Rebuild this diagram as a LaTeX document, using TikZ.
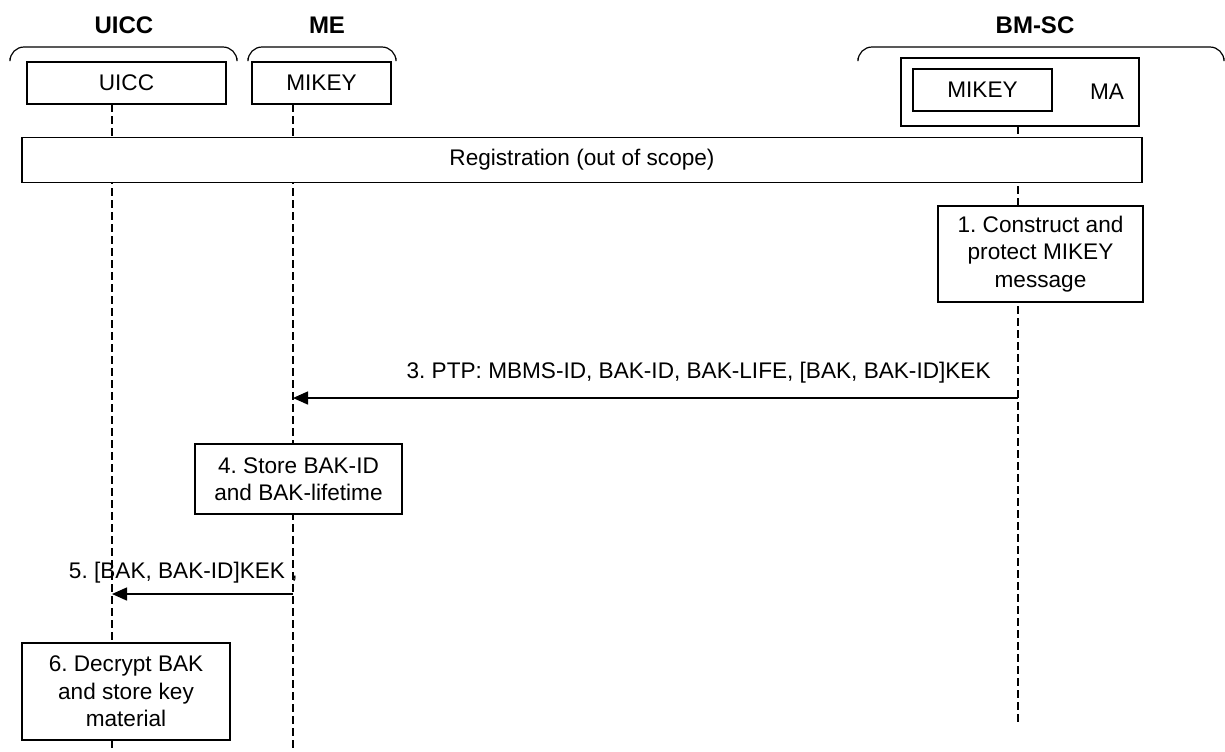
\documentclass[tikz,border=0pt]{standalone}
\usepackage{fontspec}
\setmainfont{Liberation Sans}
\usepackage{tikz}
\usetikzlibrary{arrows.meta,positioning,calc}
\frenchspacing
\tikzset{
    entitybox/.style={
        rectangle,
        draw,
        fill=white,
        line width=0.75pt,
        minimum height=21pt,
        text centered,
        inner sep=0pt
    },
    stepbox/.style={
        entitybox,
        align=center
    },
    header/.style={
        font=\fontsize{12}{14}\selectfont\bfseries
    },
    groupbrace/.style={
        line width=0.6pt,
        rounded corners=7pt
    },
    lifeline/.style={
        line width=0.6pt,
        dash pattern=on 4pt off 2pt
    },
    msg/.style={
        -{Triangle[length=7.5pt,width=6.5pt]},
        line width=0.75pt
    }
}

\begin{document}
\begin{tikzpicture}[x=0.5pt,y=-0.5pt,font=\fontsize{11.3}{13.7}\selectfont]
    \useasboundingbox (0,0) rectangle (1225,751);

    % Lifeline end points
    \coordinate (uicctop) at (112,104);
    \coordinate (uiccbot) at (112,751);
    \coordinate (metop) at (293,104);
    \coordinate (mebot) at (293,751);
    \coordinate (bmtop) at (1018,126);
    \coordinate (bmbot) at (1018,722);

    % Lifelines
    \draw[lifeline] (uicctop) -- (uiccbot);
    \draw[lifeline] (metop) -- (mebot);
    \draw[lifeline] (bmtop) -- (bmbot);

    % Entity headers and braces
    \node[header] (hUICC) at (124,25) {UICC};
    \node[header] (hME) at (327,25) {ME};
    \node[header] (hBMSC) at (1035,25) {BM-SC};
    \draw[groupbrace] (10,58) -- (10,47) -- (237,47) -- (237,58);
    \draw[groupbrace] (248,58) -- (248,47) -- (396,47) -- (396,58);
    \draw[groupbrace] (858,58) -- (858,47) -- (1224,47) -- (1224,58);

    % Entities
    \node[entitybox, minimum width=99.5pt] (uicc) at (126.5,83) {UICC};
    \node[entitybox, minimum width=69.5pt] (mikeyme) at (321.5,83) {MIKEY};
    \node[entitybox, minimum width=119pt, minimum height=34pt] (bmsc) at (1020,92) {};
    \node[entitybox, minimum width=69.5pt] (mikeybm) at (982.5,90) {MIKEY};
    \node (ma) at (1107,92) {MA};

    % Registration
    \node[entitybox, minimum width=560pt, minimum height=22.5pt] (reg) at (582,160) {Registration (out of scope)};

    % Steps
    \node[stepbox, minimum width=102.5pt, minimum height=48pt] (step1) at (1040.5,254)
        {1. Construct and\\protect MIKEY\\message};
    \node[stepbox, minimum width=103.5pt, minimum height=35pt] (step4) at (298.5,479)
        {4. Store BAK-ID\\and BAK-lifetime};
    \node[stepbox, minimum width=104pt, minimum height=48.5pt] (step6) at (126,691.5)
        {6. Decrypt BAK\\and store key\\material};

    % Messages
    \coordinate (m3from) at (1018,398);
    \coordinate (m3to) at (293,398);
    \coordinate (m5from) at (293,594);
    \coordinate (m5to) at (112,594);
    \draw[msg] (m3from) -- (m3to)
        node[pos=0, anchor=base east, xshift=-10pt, yshift=10pt] {3. PTP: MBMS-ID, BAK-ID, BAK-LIFE, [BAK, BAK-ID]KEK};
    \draw[msg] (m5from) -- (m5to)
        node[pos=0, anchor=base east, xshift=6pt, yshift=8pt] {5. [BAK, BAK-ID]KEK ,};
\end{tikzpicture}
\end{document}
